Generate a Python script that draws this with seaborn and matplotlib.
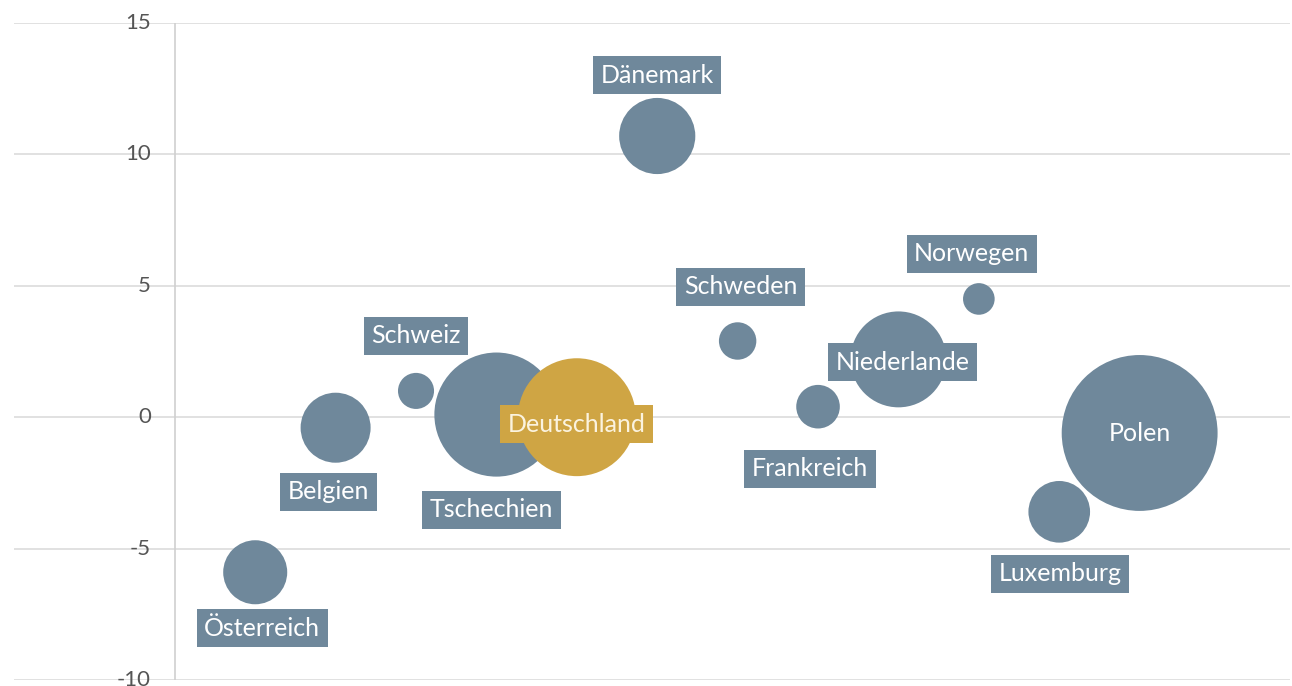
import matplotlib
matplotlib.use("Agg")
import matplotlib.pyplot as plt
import matplotlib.transforms as mtransforms
import pandas as pd
import seaborn as sns

LAENDER = ["Österreich", "Belgien", "Schweiz", "Tschechien", "Deutschland", "Dänemark",
           "Schweden", "Frankreich", "Niederlande", "Norwegen", "Luxemburg", "Polen"]
WERTE = [-5.9, -0.4, 1.0, 0.1, 0.0, 10.7, 2.9, 0.4, 2.2, 4.5, -3.6, -0.6]
GROESSE = [41, 49, 13, 154, 139, 58, 14, 19, 92, 10, 38, 243]
Y_TICKS = [-10, -5, 0, 5, 10, 15]

BLAU = "#6f889b"
GOLD = "#cfa544"
FONT = ["Lato", "DejaVu Sans"]

# label offsets in pixels (dx, dy), positive dy = upwards
LABEL_OFFSET = {
    "Österreich": (7, -56), "Belgien": (-7, -64), "Schweiz": (0, 55),
    "Tschechien": (-5, -95), "Deutschland": (0, -7), "Dänemark": (0, 61),
    "Schweden": (3, 54), "Frankreich": (-8, -62), "Niederlande": (4, -3),
    "Norwegen": (-7, 45), "Luxemburg": (1, -62), "Polen": (0, -1),
}

df = pd.DataFrame({
    "land": LAENDER,
    "pos": range(len(LAENDER)),
    "wert": WERTE,
    "groesse": GROESSE,
})
df["farbe"] = ["de" if land == "Deutschland" else "andere" for land in LAENDER]

sns.set_style("white")
plt.rcParams["font.family"] = FONT

fig = plt.figure(figsize=(12.92, 6.86), dpi=100)
ax = fig.add_axes([14 / 1292, 6 / 686, 1276 / 1292, 657 / 686])

# area proportional to value: s = 51.84 * groesse (points^2)
k = 51.84
sns.scatterplot(data=df, x="pos", y="wert", size="groesse", hue="farbe",
                palette={"andere": BLAU, "de": GOLD},
                sizes=(k * min(GROESSE), k * max(GROESSE)),
                size_norm=(min(GROESSE), max(GROESSE)),
                linewidth=0, alpha=1, legend=False, ax=ax, zorder=3)

ax.set_xlim(-3, 12.87)
ax.set_ylim(-10, 15)
ax.set_yticks(Y_TICKS)
ax.set_xticks([])
ax.set_yticklabels([])
ax.tick_params(left=False)
ax.grid(axis="y", color="#dcdcdc", linewidth=1.2, zorder=0)
for spine in ax.spines.values():
    spine.set_visible(False)
ax.axvline(-1, color="#d0d0d0", linewidth=1.2, zorder=1)
ax.set_xlabel("")
ax.set_ylabel("")

# tick labels sitting on the gridlines, right of the left edge
trans = mtransforms.blended_transform_factory(ax.transAxes, ax.transData)
for t in Y_TICKS:
    ax.text((151 - 14) / 1276, t, str(t), transform=trans, ha="right", va="center",
            fontsize=16, color="#555555", zorder=2, clip_on=False)

for row in df.itertuples():
    dx, dy = LABEL_OFFSET[row.land]
    is_de = row.land == "Deutschland"
    box = None
    if row.land != "Polen":
        box = dict(boxstyle="square,pad=0.3", facecolor=GOLD if is_de else BLAU,
                   edgecolor="none")
    ax.annotate(row.land, (row.pos, row.wert), xytext=(dx * 0.72, dy * 0.72),
                textcoords="offset points", ha="center", va="center",
                fontsize=18, color="#fbf3df" if is_de else "white",
                bbox=box, zorder=4)

fig.savefig("out.png", dpi=100)
plt.close(fig)
